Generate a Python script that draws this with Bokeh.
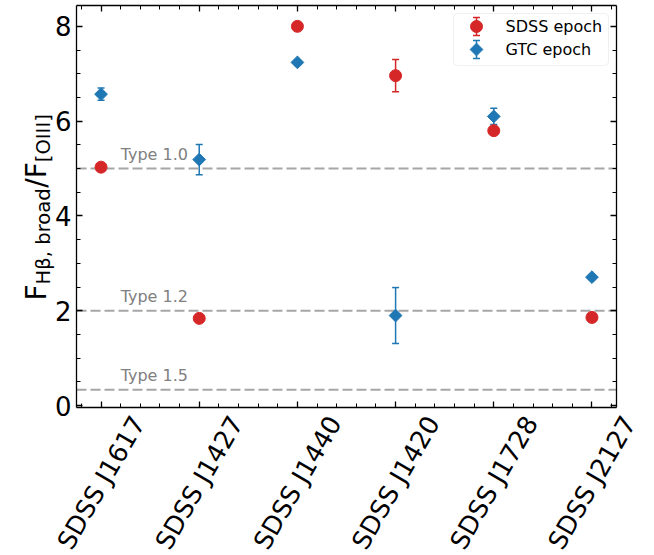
import numpy as np
from bokeh.plotting import figure
from bokeh.models import (ColumnDataSource, Whisker, TeeHead, Label,
                          LinearAxis, FixedTicker, Range1d, BoxAnnotation)
from bokeh.embed import file_html
from bokeh.resources import INLINE

# ---- data -------------------------------------------------------------
objects = ["SDSS J1617", "SDSS J1427", "SDSS J1440",
           "SDSS J1420", "SDSS J1728", "SDSS J2127"]

# F(Hbeta, broad) / F([OIII]) at the SDSS epoch
sdss_ratio = [5.03, 1.84, 8.00, 6.96, 5.80, 1.86]
sdss_err = [0.05, 0.05, 0.05, 0.34, 0.05, 0.05]

# same ratio at the GTC epoch
gtc_ratio = [6.57, 5.19, 7.24, 1.90, 6.10, 2.71]
gtc_err = [0.13, 0.32, 0.05, 0.59, 0.17, 0.05]

# Seyfert sub-type boundaries
type_limits = [5.0, 2.0, 1.0 / 3.0]
type_names = ["Type 1.0", "Type 1.2", "Type 1.5"]

y_ticks = [0, 2, 4, 6, 8]

# ---- layout -----------------------------------------------------------
# The Bokeh frame spans the whole canvas; the axes box is drawn inside it
# with fixed-location axes so that titles and category names around the
# box are not clipped.
W, H = 654, 555
X_LO, X_HI = -0.25, 5.25          # axes box, data units
Y_LO, Y_HI = -0.04, 8.44
BL, BR, BT, BB = 76, 38, 5, 148   # space around the axes box (px)

KX = (X_HI - X_LO) / (W - BL - BR)   # data units per px
KY = (Y_HI - Y_LO) / (H - BT - BB)

FONT = "DejaVu Sans"
RED = "#d62728"
BLUE = "#1f77b4"


def px_x(px):
    """canvas pixel column -> data x"""
    return X_LO + (px - BL) * KX


def px_y(py):
    """canvas pixel row (from top) -> data y"""
    return Y_LO + (H - BB - py) * KY


p = figure(width=W, height=H, output_backend="svg", toolbar_location=None,
           x_range=Range1d(px_x(0), px_x(W)), y_range=Range1d(px_y(H), px_y(0)),
           min_border=0, x_axis_location=None, y_axis_location=None)
p.grid.visible = False
p.background_fill_color = "white"
p.border_fill_color = "white"
p.outline_line_color = None

x_pos = list(range(len(objects)))
x_ticker = FixedTicker(ticks=x_pos,
                       minor_ticks=[round(v, 1) for v in np.arange(-0.2, 5.21, 0.2)])
y_ticker = FixedTicker(ticks=y_ticks,
                       minor_ticks=[round(v, 1) for v in np.arange(0.0, 8.01, 0.5)])


def make_axis(ticker, loc, bounds, labels):
    ax = LinearAxis(ticker=ticker, fixed_location=loc, bounds=bounds)
    ax.major_tick_in = 6
    ax.major_tick_out = 0
    ax.minor_tick_in = 4
    ax.minor_tick_out = 0
    ax.major_tick_line_width = 1.3
    ax.minor_tick_line_width = 1.0
    ax.major_tick_line_color = "black"
    ax.minor_tick_line_color = "black"
    ax.axis_line_color = "black"
    ax.axis_line_width = 1.3
    if labels:
        ax.major_label_text_font = FONT
        ax.major_label_text_font_size = "26px"
        ax.major_label_text_color = "black"
        ax.major_label_standoff = 5
    else:
        ax.major_label_overrides = {t: "" for t in ticker.ticks}
        ax.major_label_text_font_size = "1px"
        ax.major_label_standoff = 0
    return ax


p.add_layout(make_axis(x_ticker, Y_LO, (X_LO, X_HI), False), "below")
p.add_layout(make_axis(x_ticker, Y_HI, (X_LO, X_HI), False), "above")
p.add_layout(make_axis(y_ticker, X_LO, (Y_LO, Y_HI), True), "left")
p.add_layout(make_axis(y_ticker, X_HI, (Y_LO, Y_HI), False), "right")

# ---- type boundaries --------------------------------------------------
lim_src = ColumnDataSource(dict(x0=[X_LO] * len(type_limits),
                                x1=[X_HI] * len(type_limits),
                                y=type_limits))
p.segment(x0="x0", x1="x1", y0="y", y1="y", source=lim_src,
          line_color="#a6a6a6", line_width=2, line_dash="10 4")
for lim, name in zip(type_limits, type_names):
    p.add_layout(Label(x=0.2, y=lim, y_offset=14.5, text=name,
                       text_font=FONT, text_font_size="16px",
                       text_color="#808080", text_align="left",
                       text_baseline="alphabetic"))

# ---- measurements with error bars ------------------------------------
sdss_src = ColumnDataSource(dict(
    x=x_pos, y=sdss_ratio,
    lo=[v - e for v, e in zip(sdss_ratio, sdss_err)],
    hi=[v + e for v, e in zip(sdss_ratio, sdss_err)]))
gtc_src = ColumnDataSource(dict(
    x=x_pos, y=gtc_ratio,
    lo=[v - e for v, e in zip(gtc_ratio, gtc_err)],
    hi=[v + e for v, e in zip(gtc_ratio, gtc_err)]))


def error_bars(src, col):
    p.add_layout(Whisker(source=src, base="x", lower="lo", upper="hi",
                         dimension="height", line_color=col, line_width=1.5,
                         level="underlay",
                         lower_head=TeeHead(size=7, line_color=col, line_width=1.5),
                         upper_head=TeeHead(size=7, line_color=col, line_width=1.5)))


def circles(src):
    p.scatter("x", "y", source=src, marker="circle", size=12,
              fill_color=RED, line_color=RED)


def diamonds(src):
    p.scatter("x", "y", source=src, marker="square", angle=np.pi / 4,
              size=9, fill_color=BLUE, line_color=BLUE)


error_bars(sdss_src, RED)
error_bars(gtc_src, BLUE)
circles(sdss_src)
diamonds(gtc_src)

# ---- category names under the axes box -------------------------------
for xi, name in zip(x_pos, objects):
    p.add_layout(Label(x=xi, y=px_y(482), text=name, angle=np.pi / 3,
                       text_font=FONT, text_font_size="25.5px",
                       text_color="black", text_align="center",
                       text_baseline="middle"))

# ---- y axis title: F_{Hβ, broad} / F_{[OIII]} ---------------------------
main_size, sub_size = 28.0, 19.6
base_main, base_sub = 36.0, 42.5
segments = [("F", main_size, base_main, 0.575),
            ("Hβ, broad", sub_size, base_sub, 4.93),
            ("/F", main_size, base_main, 0.912),
            ("[OIII]", sub_size, base_sub, 2.452)]
start = 300.0
for txt, size, base, em in segments:
    p.add_layout(Label(x=px_x(base), y=px_y(start), text=txt,
                       angle=np.pi / 2, text_font=FONT,
                       text_font_size=f"{size}px", text_color="black",
                       text_align="left", text_baseline="alphabetic"))
    start -= em * size

# ---- legend (errorbar-style keys) --------------------------------------
p.add_layout(BoxAnnotation(left=px_x(453), right=px_x(608),
                           top=px_y(13), bottom=px_y(65),
                           fill_color="white", fill_alpha=0.8,
                           line_color="#cccccc", line_width=1,
                           border_radius=4, level="annotation"))
key_x = px_x(476)
key_rows = [("SDSS epoch", px_y(26), RED, circles),
            ("GTC epoch", px_y(49), BLUE, diamonds)]
for label, ky, col, draw in key_rows:
    key_src = ColumnDataSource(dict(x=[key_x], y=[ky],
                                    lo=[ky - 9 * KY], hi=[ky + 9 * KY]))
    w = Whisker(source=key_src, base="x", lower="lo", upper="hi",
                dimension="height", line_color=col, line_width=1.5,
                level="overlay",
                lower_head=TeeHead(size=7, line_color=col, line_width=1.5),
                upper_head=TeeHead(size=7, line_color=col, line_width=1.5))
    p.add_layout(w)
    r = p.scatter("x", "y", source=key_src,
                  marker="circle" if draw is circles else "square",
                  angle=0 if draw is circles else np.pi / 4,
                  size=12 if draw is circles else 9,
                  fill_color=col, line_color=col, level="overlay")
    p.add_layout(Label(x=px_x(505), y=ky, text=label, text_font=FONT,
                       text_font_size="16px", text_color="black",
                       text_align="left", text_baseline="middle",
                       level="overlay"))

open("out.html", "w").write(file_html(p, INLINE))
